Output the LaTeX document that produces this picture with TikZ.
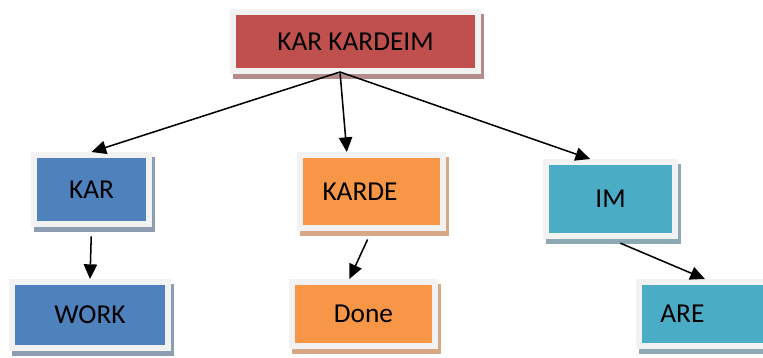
\documentclass[tikz,border=0pt]{standalone}
\usepackage{fontspec}
\setmainfont{Carlito}
\usetikzlibrary{arrows.meta,shadows}

\definecolor{framegray}{HTML}{F2F2F2}
\definecolor{kred}{HTML}{C0504D}
\definecolor{kredsh}{HTML}{B48C8C}
\definecolor{kblue}{HTML}{4F81BD}
\definecolor{kbluesh}{HTML}{8D9DB2}
\definecolor{korange}{HTML}{F79646}
\definecolor{korangesh}{HTML}{D6A886}
\definecolor{kteal}{HTML}{4BACC6}
\definecolor{ktealsh}{HTML}{8DA9B4}

\tikzset{
  wordbox/.style 2 args={draw=framegray, line width=4.5pt, fill=#1, inner sep=0pt,
    drop shadow={shadow xshift=2.25pt, shadow yshift=-3.75pt, fill=#2, draw=#2, line width=4.5pt, opacity=1},
    font=\fontsize{20.5}{24}\selectfont},
  link/.style={-{Triangle[length=11pt,width=10pt]}, line width=1.15pt},
  every label/.style={font=\fontsize{20.5}{24}\selectfont}
}

\begin{document}
\begin{tikzpicture}[x=0.75pt,y=-0.75pt]
  \clip (0,0) rectangle (763,357);
  % top word
  \node[wordbox={kred}{kredsh}, minimum width=183.75pt, minimum height=44.25pt] (root) at (355.5,41.5) {KAR KARDEIM};
  % parts
  \node[wordbox={kblue}{kbluesh}, minimum width=86.25pt, minimum height=51.75pt] (kar) at (91.5,189.5) {KAR};
  \node[wordbox={korange}{korangesh}, minimum width=107.25pt, minimum height=54.75pt,
        label={[xshift=-8.6pt]center:KARDE}] (karde) at (371.5,191.5) {};
  \node[wordbox={kteal}{ktealsh}, minimum width=96.75pt, minimum height=55.5pt] (im) at (610.5,199) {IM};
  % meanings
  \node[wordbox={kblue}{kbluesh}, minimum width=117pt, minimum height=49.5pt] (work) at (90,315) {WORK};
  \node[wordbox={korange}{korangesh}, minimum width=107.25pt, minimum height=48pt] (done) at (363.5,314) {Done};
  \node[wordbox={kteal}{ktealsh}, minimum width=117pt, minimum height=48pt,
        label={[xshift=-26pt]center:ARE}] (are) at (717,314) {};

  \coordinate (fork) at (340,72);
  \draw[link] (fork) -- (kar.north);
  \draw[link] (fork) -- (karde.122);
  \draw[link] (fork) -- (im.117);
  \draw[link, shorten <=7pt] (kar.south) -- (work.north);
  \draw[link, shorten <=7pt] (karde.south) -- (done.112);
  \draw[link, shorten <=8pt] (im.south) -- (are.109);
\end{tikzpicture}
\end{document}
